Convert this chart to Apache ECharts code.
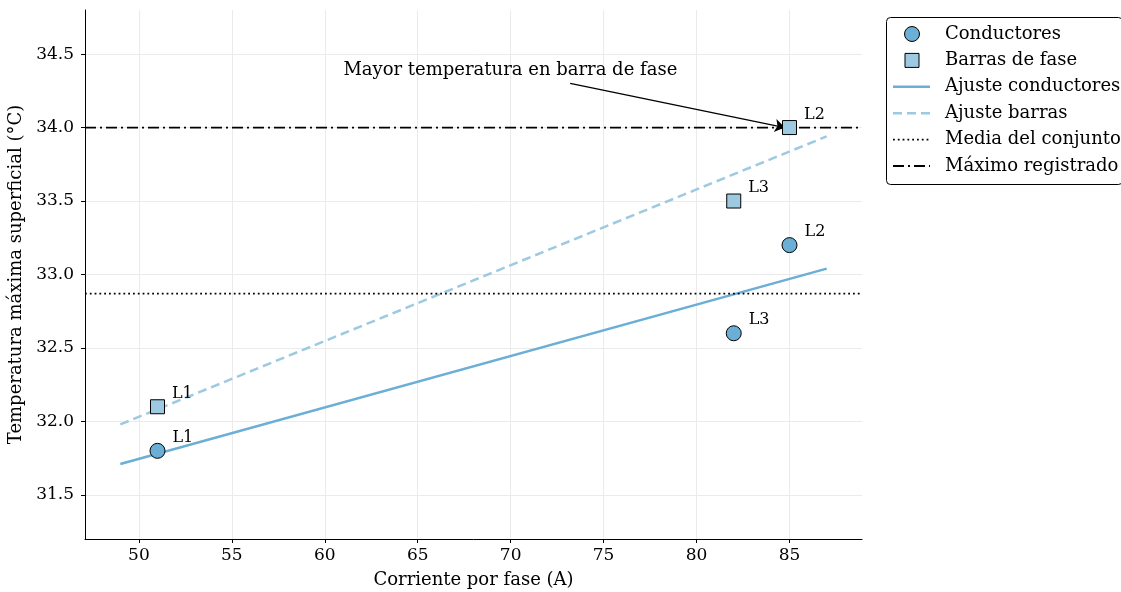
<!DOCTYPE html>
<html>
<head>
<meta charset="utf-8">
<script src="https://cdn.jsdelivr.net/npm/echarts@6/dist/echarts.min.js"></script>
<style>
html,body{margin:0;padding:0;background:#fff;}
#c{width:1121px;height:592px;}
</style>
</head>
<body>
<div id="c"></div>
<script>
// ---- data ----
const phases = ['L1', 'L2', 'L3'];
const currents = [51, 85, 82];
const condTemps = [31.8, 33.2, 32.6];
const barTemps = [32.1, 34.0, 33.5];
const condFitX = [49, 87];
const condFitY = [31.71, 33.04];
const barFitX = [49, 87];
const barFitY = [31.98, 33.94];
const meanTemp = 32.87;
const maxTemp = 34.0;
const xTicks = [50, 55, 60, 65, 70, 75, 80, 85];
const yTicks = [31.5, 32.0, 32.5, 33.0, 33.5, 34.0, 34.5];
const xRange = [47.1, 88.9];
const yRange = [31.2, 34.8];
const legendNames = ['Conductores', 'Barras de fase', 'Ajuste conductores', 'Ajuste barras',
                     'Media del conjunto', 'Máximo registrado'];
const annText = 'Mayor temperatura en barra de fase';
const annTextPos = [61.0, 34.39];
const annArrowFrom = [73.2, 34.3];
const annArrowTo = [84.75, 34.0];

const FONT = 'DejaVu Serif';
const C_COND = '#6baed6';
const C_BAR = '#9ecae1';
const DASH_FIT = [9, 5];
const DASH_DOT = [1.8, 3];
const DASH_DASHDOT = [11, 4, 2, 4];

const chart = echarts.init(document.getElementById('c'));

const pts = (xs, ys) => xs.map((x, i) => [x, ys[i]]);
const labeled = (xs, ys) => xs.map((x, i) => ({value: [x, ys[i]], name: phases[i]}));

const ptLabel = {
  show: true, position: 'right', distance: 7, offset: [0, -13],
  formatter: p => p.name, fontFamily: FONT, fontSize: 16, color: '#000'
};

const option = {
  animation: false,
  backgroundColor: '#fff',
  grid: {left: 85, top: 10, right: 259, bottom: 53, containLabel: false, outerBoundsMode: 'none'},
  xAxis: {
    type: 'value', min: xRange[0], max: xRange[1],
    name: 'Corriente por fase (A)', nameLocation: 'middle', nameGap: 32,
    nameTextStyle: {fontFamily: FONT, fontSize: 18, color: '#000'},
    axisLine: {show: true, lineStyle: {color: '#000', width: 1}},
    axisTick: {show: true, customValues: xTicks, length: 4, lineStyle: {color: '#000'}},
    axisLabel: {customValues: xTicks, fontFamily: FONT, fontSize: 17, color: '#000', margin: 8},
    splitLine: {show: true, customValues: xTicks, lineStyle: {color: '#ebebeb', width: 1}}
  },
  yAxis: {
    type: 'value', min: yRange[0], max: yRange[1],
    name: 'Temperatura máxima superficial (°C)', nameLocation: 'middle', nameGap: 50,
    nameTextStyle: {fontFamily: FONT, fontSize: 18, color: '#000'},
    axisLine: {show: true, lineStyle: {color: '#000', width: 1}},
    axisTick: {show: true, customValues: yTicks, length: 4, lineStyle: {color: '#000'}},
    axisLabel: {customValues: yTicks, fontFamily: FONT, fontSize: 17, color: '#000', margin: 11,
      formatter: v => v.toFixed(1)},
    splitLine: {show: true, customValues: yTicks, lineStyle: {color: '#ebebeb', width: 1}}
  },
  series: [
    {
      name: legendNames[2], type: 'line', data: pts(condFitX, condFitY),
      symbol: 'none', lineStyle: {color: C_COND, width: 2.5}, itemStyle: {color: C_COND}, z: 2
    },
    {
      name: legendNames[3], type: 'line', data: pts(barFitX, barFitY),
      symbol: 'none', lineStyle: {color: C_BAR, width: 2.5, type: DASH_FIT}, itemStyle: {color: C_BAR}, z: 2
    },
    {
      name: legendNames[4], type: 'line', data: pts(xRange, [meanTemp, meanTemp]),
      symbol: 'none', lineStyle: {color: '#000', width: 1.8, type: DASH_DOT}, itemStyle: {color: '#000'}, z: 2
    },
    {
      name: legendNames[5], type: 'line', data: pts(xRange, [maxTemp, maxTemp]),
      symbol: 'none', lineStyle: {color: '#000', width: 1.8, type: DASH_DASHDOT}, itemStyle: {color: '#000'}, z: 2,
      markLine: {
        silent: true, symbol: ['none', 'arrow'], symbolSize: 10, animation: false,
        label: {show: false},
        lineStyle: {color: '#000', width: 1.3, type: 'solid'},
        data: [[{coord: annArrowFrom}, {coord: annArrowTo}]]
      }
    },
    {
      name: legendNames[0], type: 'scatter', data: labeled(currents, condTemps),
      symbol: 'circle', symbolSize: 15,
      itemStyle: {color: C_COND, borderColor: '#000', borderWidth: 1, opacity: 1},
      label: ptLabel, z: 5
    },
    {
      name: legendNames[1], type: 'scatter', data: labeled(currents, barTemps),
      symbol: 'rect', symbolSize: 14,
      itemStyle: {color: C_BAR, borderColor: '#000', borderWidth: 1, opacity: 1},
      label: ptLabel, z: 5
    }
  ]
};
chart.setOption(option);

// annotation text placed in data coordinates through the chart's scales
const tp = chart.convertToPixel({gridIndex: 0}, annTextPos);

// legend drawn as graphic elements (matplotlib-style)
const LX = 886, LY = 17, LW = 236, LH = 167;
const rowY = i => LY + 17 + i * 26.4;
const iconX0 = LX + 7, iconX1 = LX + 44, iconCx = LX + 26, textX = LX + 59;
const legendEls = [
  {type: 'rect', shape: {x: LX + 0.5, y: LY + 0.5, width: LW, height: LH, r: 4},
   style: {fill: '#fff', stroke: '#000', lineWidth: 1}, z: 100},
  {type: 'circle', shape: {cx: iconCx, cy: rowY(0), r: 7.5},
   style: {fill: C_COND, stroke: '#000', lineWidth: 1}, z: 101},
  {type: 'rect', shape: {x: iconCx - 7, y: rowY(1) - 7, width: 14, height: 14},
   style: {fill: C_BAR, stroke: '#000', lineWidth: 1}, z: 101},
  {type: 'line', shape: {x1: iconX0, y1: rowY(2), x2: iconX1, y2: rowY(2)},
   style: {stroke: C_COND, lineWidth: 2.5}, z: 101},
  {type: 'line', shape: {x1: iconX0, y1: rowY(3), x2: iconX1, y2: rowY(3)},
   style: {stroke: C_BAR, lineWidth: 2.5, lineDash: DASH_FIT}, z: 101},
  {type: 'line', shape: {x1: iconX0, y1: rowY(4), x2: iconX1, y2: rowY(4)},
   style: {stroke: '#000', lineWidth: 1.8, lineDash: DASH_DOT}, z: 101},
  {type: 'line', shape: {x1: iconX0, y1: rowY(5), x2: iconX1, y2: rowY(5)},
   style: {stroke: '#000', lineWidth: 1.8, lineDash: DASH_DASHDOT}, z: 101}
];
legendNames.forEach((n, i) => {
  legendEls.push({type: 'text', x: textX, y: rowY(i), z: 101,
    style: {text: n, font: '18px "DejaVu Serif"', fill: '#000', verticalAlign: 'middle', align: 'left'}});
});
legendEls.push({type: 'text', x: tp[0], y: tp[1], z: 50,
  style: {text: annText, font: '18px "DejaVu Serif"', fill: '#000', verticalAlign: 'middle', align: 'left'}});

chart.setOption({graphic: {elements: legendEls}});
</script>
</body>
</html>
